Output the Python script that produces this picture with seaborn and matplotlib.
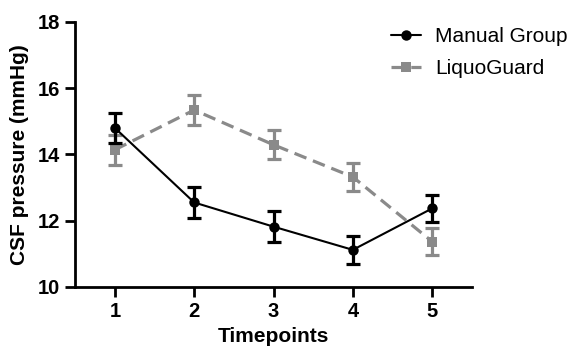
import numpy as np
import pandas as pd
import matplotlib
matplotlib.use("Agg")
import matplotlib.pyplot as plt
import seaborn as sns

timepoints = [1, 2, 3, 4, 5]
manual_mean = [14.80, 12.55, 11.82, 11.12, 12.37]
manual_err = [0.45, 0.47, 0.47, 0.42, 0.40]
liquo_mean = [14.14, 15.34, 14.29, 13.32, 11.37]
liquo_err = [0.45, 0.46, 0.44, 0.43, 0.40]
series_names = ["Manual Group", "LiquoGuard"]

sns.set_style("ticks", {"axes.edgecolor": "black", "text.color": "black",
                        "xtick.color": "black", "ytick.color": "black",
                        "axes.labelcolor": "black"})
plt.rcParams['font.family'] = ['Liberation Sans', 'DejaVu Sans']

fig = plt.figure(figsize=(5.74, 3.47), dpi=100)
ax = fig.add_axes([0.131, 0.173, 0.691, 0.764])

gray = "#8a8a8a"
# LiquoGuard (dashed grey, squares)
ax.errorbar(timepoints, liquo_mean, yerr=liquo_err, fmt="none", ecolor=gray,
            elinewidth=2.3, capsize=5, capthick=2.3, zorder=2)
sns.lineplot(x=timepoints, y=liquo_mean, ax=ax, color=gray, marker="s",
             markersize=7, markeredgewidth=0, linewidth=2.3, linestyle=(0, (4, 2.2)),
             label=series_names[1], zorder=3)
# Manual group (solid black, circles)
ax.errorbar(timepoints, manual_mean, yerr=manual_err, fmt="none", ecolor="black",
            elinewidth=2.3, capsize=5, capthick=2.3, zorder=4)
sns.lineplot(x=timepoints, y=manual_mean, ax=ax, color="black", marker="o",
             markersize=7.5, markeredgewidth=0, linewidth=1.5,
             label=series_names[0], zorder=5)

ax.set_xlim(0.5, 5.5)
ax.set_ylim(10, 18)
ax.set_xticks(timepoints)
ax.set_yticks([10, 12, 14, 16, 18])
sns.despine(ax=ax)
for s in ["left", "bottom"]:
    ax.spines[s].set_linewidth(2)
ax.tick_params(width=2, length=7, labelsize=14.5, direction="out", pad=4)
for lab in ax.get_xticklabels() + ax.get_yticklabels():
    lab.set_fontweight("bold")
ax.set_xlabel("Timepoints", fontsize=15, fontweight="bold", labelpad=4)
ax.set_ylabel("CSF pressure (mmHg)", fontsize=15, fontweight="bold", labelpad=6)

handles, labels = ax.get_legend_handles_labels()
order = [labels.index(n) for n in series_names]
ax.legend([handles[i] for i in order], [labels[i] for i in order],
          loc="upper left", bbox_to_anchor=(0.75, 1.05), frameon=False,
          fontsize=15, handlelength=1.4, handletextpad=0.7, labelspacing=0.6)

fig.savefig("out.png", dpi=100)
